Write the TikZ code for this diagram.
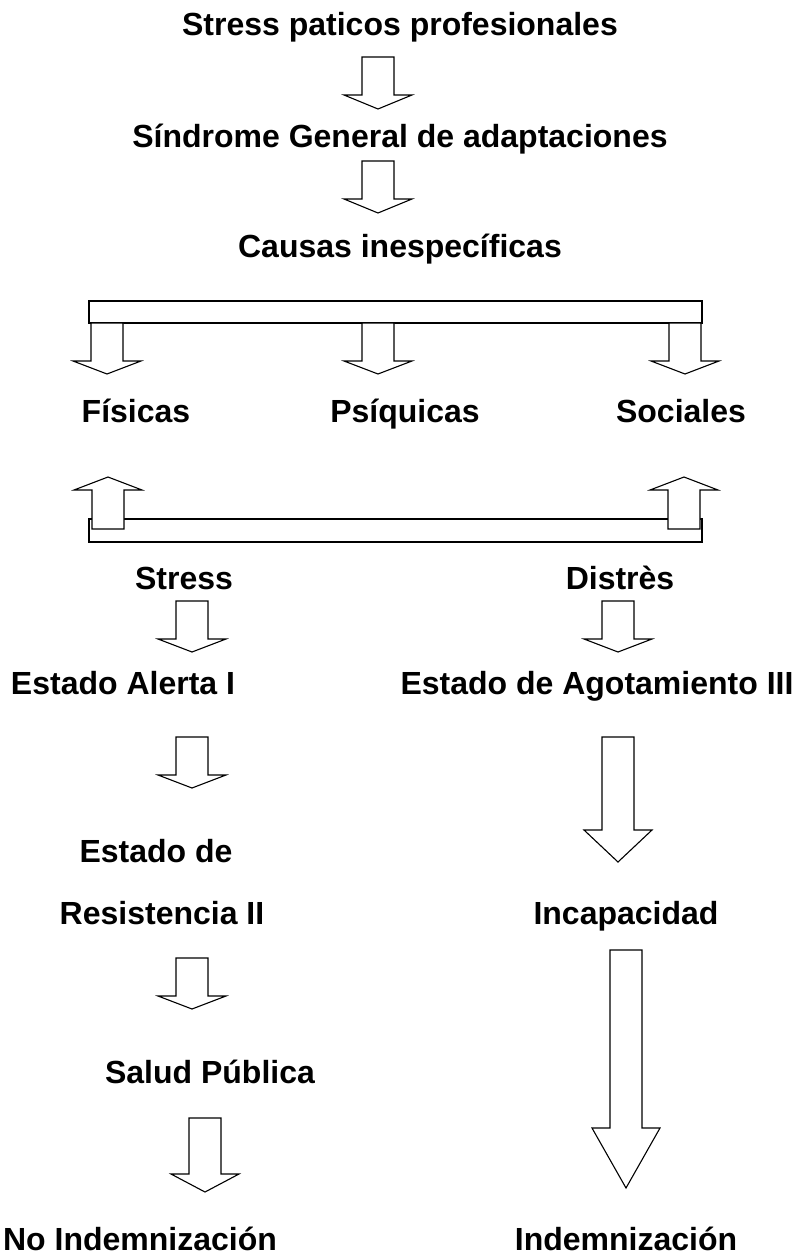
\documentclass[tikz,border=0pt]{standalone}
\usepackage{fontspec}
\setmainfont{Liberation Sans}
\usetikzlibrary{positioning}

% hollow block arrow: centre x, tail y, head y, tip y
\newcommand{\blockarr}[4]{%
	\draw[fill=white] ({#1-16},#2) -- ({#1+16},#2) -- ({#1+16},#3) -- ({#1+34},#3)
		-- (#1,#4) -- ({#1-34},#3) -- ({#1-16},#3) -- cycle;}

\begin{document}
\begin{tikzpicture}[x=1pt, y=-1pt, line width=1.1pt, line join=miter,
	lbl/.style={font=\fontsize{32}{38}\selectfont\bfseries, inner sep=0pt, anchor=base}]
	\useasboundingbox (0,0) rectangle (799,1255);

	% texts (placed on their baselines)
	\node[lbl] (stress) at (400,36) {Stress paticos profesionales};
	\node[lbl] (sga) at (400,147) {Síndrome General de adaptaciones};
	\node[lbl] (causas) at (400,257) {Causas inespecíficas};
	\node[lbl] (fis) at (136,422) {Físicas};
	\node[lbl] (psi) at (405,422) {Psíquicas};
	\node[lbl] (soc) at (681,422) {Sociales};
	\node[lbl] (str) at (184,589) {Stress};
	\node[lbl] (dis) at (620,589) {Distrès};
	\node[lbl] (alerta) at (123,694) {Estado Alerta I};
	\node[lbl] (agot) at (597,694) {Estado de Agotamiento III};
	\node[lbl] (estde) at (156,862) {Estado de};
	\node[lbl] (resist) at (162,924) {Resistencia II};
	\node[lbl] (incap) at (626,924) {Incapacidad};
	\node[lbl] (salud) at (210,1083) {Salud Pública};
	\node[lbl] (noind) at (140,1250) {No Indemnización};
	\node[lbl] (indem) at (626,1250) {Indemnización};

	% top column
	\blockarr{378}{57}{95}{109}
	\blockarr{378}{161}{199}{213}

	% upper bracket
	\draw (89,301) rectangle (702,323);
	\blockarr{107}{323}{361}{374}
	\blockarr{378}{323}{361}{374}
	\blockarr{685}{323}{361}{374}

	% lower bracket
	\draw (89,519) rectangle (702,542);
	\blockarr{108}{529}{490}{477}
	\blockarr{684}{529}{490}{477}

	% left column
	\blockarr{192}{601}{639}{652}
	\blockarr{192}{737}{775}{788}
	\blockarr{192}{958}{996}{1009}
	\blockarr{205}{1118}{1174}{1192}

	% right column
	\blockarr{618}{601}{639}{652}
	\blockarr{618}{737}{830}{862}
	\blockarr{626}{950}{1128}{1188}
\end{tikzpicture}
\end{document}
